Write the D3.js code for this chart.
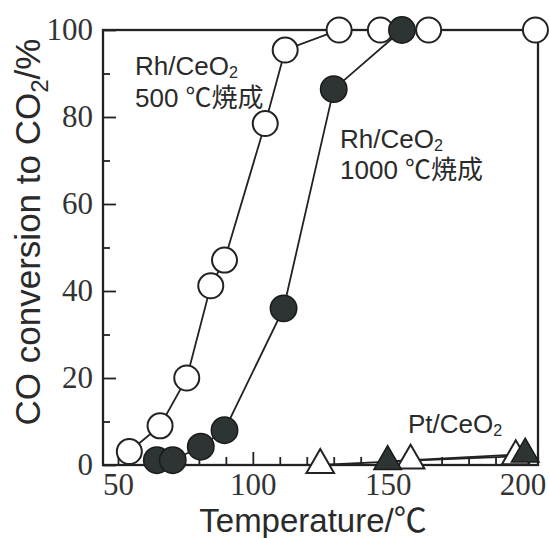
<!DOCTYPE html>
<html>
<head>
<meta charset="utf-8">
<script src="https://cdn.jsdelivr.net/npm/d3@7"></script>
<style>
  body { margin: 0; background: #fff; }
  .tick text { font-family: "Liberation Serif", "Times New Roman", serif; fill: #333; }
  .sans { font-family: "Liberation Sans", Arial, "Noto Sans CJK JP", sans-serif; fill: #2a2a2a; }
</style>
</head>
<body>
<script>
// data
const rh500Temp = [54.2, 65.6, 75.5, 84.4, 89.5, 104.6, 112, 132, 147.3, 165.2, 204.8]
const rh500Conv = [3.1, 9.0, 20, 41.2, 47.1, 78.5, 95.4, 100, 100, 100, 100]

const rh1000Temp = [64.4, 70.3, 80.7, 89.5, 111.4, 130, 155.3]
const rh1000Conv = [1.1, 1.1, 4.2, 8, 36, 86.4, 100]

const ptOpenTemp = [125, 158.5, 197.5]
const ptOpenConv = [0, 1, 2]
const ptFillTemp = [150, 201]
const ptFillConv = [0.8, 2.5]

const xMajor = [50, 100, 150, 200]
const yMajor = [0, 20, 40, 60, 80, 100]

const W = 549, H = 538

const svg = d3.select("body")
    .append("svg")
    .attr("width", W)
    .attr("height", H)

const x = d3.scaleLinear().domain([44.44, 205.75]).range([103, 538])
const y = d3.scaleLinear().domain([0, 100]).range([465, 30])

const zip = (a, b) => a.map((v, i) => [v, b[i]])

// x axis: minor ticks every 10, major with labels
svg.append("g")
    .attr("transform", "translate(0,465)")
    .call(d3.axisBottom(x).tickValues(d3.range(60, 200, 10).filter(v => v % 50)).tickSize(-8).tickFormat(""))
    .call(g => g.select(".domain").remove())
svg.append("g")
    .attr("transform", "translate(0,465)")
    .call(d3.axisBottom(x).tickValues(xMajor).tickSize(-13).tickPadding(8))
    .call(g => g.select(".domain").remove())
    .call(g => g.selectAll("text").attr("font-size", 31))

// y axis
svg.append("g")
    .attr("transform", "translate(103,0)")
    .call(d3.axisLeft(y).tickValues([10, 30, 50, 70, 90]).tickSize(-7).tickFormat(""))
    .call(g => g.select(".domain").remove())
svg.append("g")
    .attr("transform", "translate(103,0)")
    .call(d3.axisLeft(y).tickValues(yMajor).tickSize(-13).tickPadding(10))
    .call(g => g.select(".domain").remove())
    .call(g => g.selectAll("text").attr("font-size", 31))

svg.selectAll(".tick line").attr("stroke", "#222").attr("stroke-width", 1.8)

// frame
svg.append("rect")
    .attr("x", x(44.44))
    .attr("y", y(100))
    .attr("width", x(205.75) - x(44.44))
    .attr("height", y(0) - y(100))
    .attr("fill", "none")
    .attr("stroke", "#222")
    .attr("stroke-width", 2.3)

const line = d3.line().x(d => x(d[0])).y(d => y(d[1]))

const series = [
    zip(rh500Temp, rh500Conv),
    zip(rh1000Temp, rh1000Conv),
    zip(ptOpenTemp, ptOpenConv),
    zip(ptFillTemp, ptFillConv)
]

svg.selectAll(".curve")
    .data(series)
    .enter()
    .append("path")
    .attr("class", "curve")
    .attr("d", line)
    .attr("fill", "none")
    .attr("stroke", "#222")
    .attr("stroke-width", 1.8)

// markers
svg.selectAll(".open-c")
    .data(series[0])
    .enter()
    .append("circle")
    .attr("cx", d => x(d[0]))
    .attr("cy", d => y(d[1]))
    .attr("r", 12.5)
    .attr("fill", "#fff")
    .attr("stroke", "#222")
    .attr("stroke-width", 2)

svg.selectAll(".fill-c")
    .data(series[1])
    .enter()
    .append("circle")
    .attr("cx", d => x(d[0]))
    .attr("cy", d => y(d[1]))
    .attr("r", 13.2)
    .attr("fill", "#2e3333")
    .attr("stroke", "#1a1a1a")
    .attr("stroke-width", 1.5)

const tri = d3.symbol(d3.symbolTriangle, 330)

svg.selectAll(".open-t")
    .data(series[2])
    .enter()
    .append("path")
    .attr("d", tri)
    .attr("transform", d => `translate(${x(d[0])},${y(d[1])})`)
    .attr("fill", "#fff")
    .attr("stroke", "#222")
    .attr("stroke-width", 2)

svg.selectAll(".fill-t")
    .data(series[3])
    .enter()
    .append("path")
    .attr("d", tri)
    .attr("transform", d => `translate(${x(d[0])},${y(d[1])})`)
    .attr("fill", "#2e3333")
    .attr("stroke", "#1a1a1a")
    .attr("stroke-width", 1.5)

// labels
function chem(xx, yy, size, before) {
    const t = svg.append("text").attr("class", "sans")
        .attr("x", xx).attr("y", yy).attr("font-size", size)
    t.append("tspan").text(before)
    t.append("tspan").attr("font-size", size * 0.62).attr("dy", size * 0.12).text("2")
    return t
}

chem(135, 75, 26, "Rh/CeO")
svg.append("text").attr("class", "sans").attr("x", 135).attr("y", 107).attr("font-size", 26).text("500 ℃焼成")

chem(340, 148, 26, "Rh/CeO")
svg.append("text").attr("class", "sans").attr("x", 340).attr("y", 179).attr("font-size", 26).text("1000 ℃焼成")

chem(408, 433, 26, "Pt/CeO")

// axis titles
svg.append("text").attr("class", "sans")
    .attr("x", 313).attr("y", 532)
    .attr("text-anchor", "middle")
    .attr("font-size", 33)
    .text("Temperature/℃")

const yt = svg.append("text").attr("class", "sans")
    .attr("transform", "translate(40,232) rotate(-90)")
    .attr("text-anchor", "middle")
    .attr("font-size", 35)
yt.append("tspan").text("CO conversion to CO")
yt.append("tspan").attr("font-size", 24).attr("dy", 8).text("2")
yt.append("tspan").attr("dy", -8).text("/%")
</script>
</body>
</html>
